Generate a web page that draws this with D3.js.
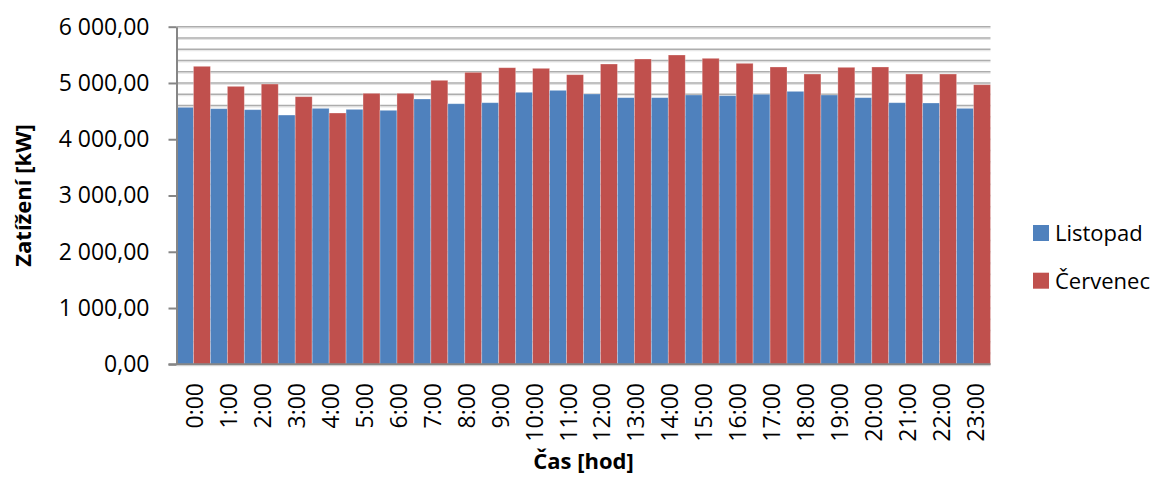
<!DOCTYPE html>
<html>
<head>
<meta charset="utf-8">
<script src="https://cdn.jsdelivr.net/npm/d3@7"></script>
<style>
  body { margin: 0; background: #fff; }
  svg { font-family: "Open Sans", sans-serif; }
</style>
</head>
<body>
<svg width="1156" height="481"></svg>
<script>
// hodinove zatizeni
const hours = ["0:00","1:00","2:00","3:00","4:00","5:00","6:00","7:00","8:00","9:00","10:00","11:00",
   "12:00","13:00","14:00","15:00","16:00","17:00","18:00","19:00","20:00","21:00","22:00","23:00"];
const listopad = [4567, 4543, 4525, 4430, 4549, 4531, 4514, 4715, 4631, 4649, 4834, 4869,
   4804, 4739, 4739, 4786, 4774, 4798, 4851, 4786, 4739, 4649, 4644, 4549];
const cervenec = [5296, 4940, 4981, 4756, 4466, 4816, 4816, 5047, 5189, 5271, 5260, 5147,
   5337, 5426, 5497, 5438, 5349, 5284, 5159, 5278, 5284, 5159, 5159, 4969];
const seriesNames = ["Listopad", "Červenec"];
const colors = ["#4F81BD", "#C0504D"];
const yTicks = [0, 1000, 2000, 3000, 4000, 5000, 6000];
const gridTicks = d3.range(0, 6001, 200);

const svg = d3.select("svg");
const plotLeft = 176.5, plotRight = 990.5, plotTop = 26.7, plotBottom = 364.3;

const x = d3.scaleBand().domain(hours).range([plotLeft, plotRight]).padding(0);
const xs = d3.scaleBand().domain(seriesNames).range([0, x.bandwidth()]).padding(0);
const y = d3.scaleLinear().domain([0, 6000]).range([plotBottom, plotTop]);

const loc = d3.formatLocale({ decimal: ",", thousands: " ", grouping: [3], currency: ["", ""] });
const fmt = loc.format(",.2f");

// mrizka
const grid = svg.append("g");
grid.selectAll("line.s").data(gridTicks).enter().append("line")
   .attr("x1", plotLeft).attr("x2", plotRight)
   .attr("y1", d => y(d) + 1.5).attr("y2", d => y(d) + 1.5)
   .attr("stroke", "#e2e2e2").attr("stroke-width", 1);
grid.selectAll("line.g").data(gridTicks).enter().append("line")
   .attr("x1", plotLeft).attr("x2", plotRight)
   .attr("y1", d => y(d)).attr("y2", d => y(d))
   .attr("stroke", "#adadad").attr("stroke-width", 1.6);

// sloupce
const rows = hours.map((h, i) => ({ hour: h, values: [listopad[i], cervenec[i]] }));
svg.append("g").selectAll("g").data(rows).enter().append("g")
   .attr("transform", d => "translate(" + x(d.hour) + ",0)")
   .selectAll("rect")
   .data(d => d.values.map((v, k) => ({ name: seriesNames[k], value: v, k: k })))
   .enter().append("rect")
   .attr("x", d => xs(d.name))
   .attr("y", d => y(d.value))
   .attr("width", xs.bandwidth())
   .attr("height", d => plotBottom - y(d.value))
   .attr("fill", d => colors[d.k])
   .attr("stroke", "rgba(255,255,255,0.35)")
   .attr("stroke-width", 0.8);

// osa y
const yAxis = svg.append("g")
   .attr("transform", "translate(" + plotLeft + ",0)")
   .call(d3.axisLeft(y).tickValues(yTicks).tickSize(8).tickSizeOuter(0).tickPadding(19).tickFormat(fmt));
yAxis.select(".domain").attr("stroke", "#868686").attr("stroke-width", 2);
yAxis.selectAll(".tick line").attr("stroke", "#868686").attr("stroke-width", 2);
yAxis.selectAll(".tick text").attr("font-size", 23).attr("fill", "#000")
   .attr("font-family", "Open Sans, sans-serif");

// osa x
svg.append("line")
   .attr("x1", plotLeft - 8).attr("x2", plotRight)
   .attr("y1", plotBottom).attr("y2", plotBottom)
   .attr("stroke", "#868686").attr("stroke-width", 2);

svg.append("g").selectAll("text").data(hours).enter().append("text")
   .attr("transform", d => "translate(" + (x(d) + x.bandwidth() / 2 + 1) + ",383) rotate(-90)")
   .attr("text-anchor", "end")
   .attr("dominant-baseline", "central")
   .attr("font-size", 23)
   .text(d => d);

// popisky os
svg.append("text")
   .attr("x", (plotLeft + plotRight) / 2).attr("y", 469)
   .attr("text-anchor", "middle")
   .attr("font-size", 22).attr("font-weight", "bold")
   .text("Čas [hod]");

svg.append("text")
   .attr("transform", "translate(31," + (plotTop + plotBottom) / 2 + ") rotate(-90)")
   .attr("text-anchor", "middle")
   .attr("font-size", 22).attr("font-weight", "bold")
   .text("Zatížení [kW]");

// legenda
const legend = svg.append("g").selectAll("g").data(seriesNames).enter().append("g")
   .attr("transform", (d, i) => "translate(1033," + (225 + i * 47.7) + ")");
legend.append("rect").attr("width", 16).attr("height", 16).attr("fill", (d, i) => colors[i]);
legend.append("text").attr("x", 22).attr("y", 16).attr("font-size", 22).text(d => d);
</script>
</body>
</html>
